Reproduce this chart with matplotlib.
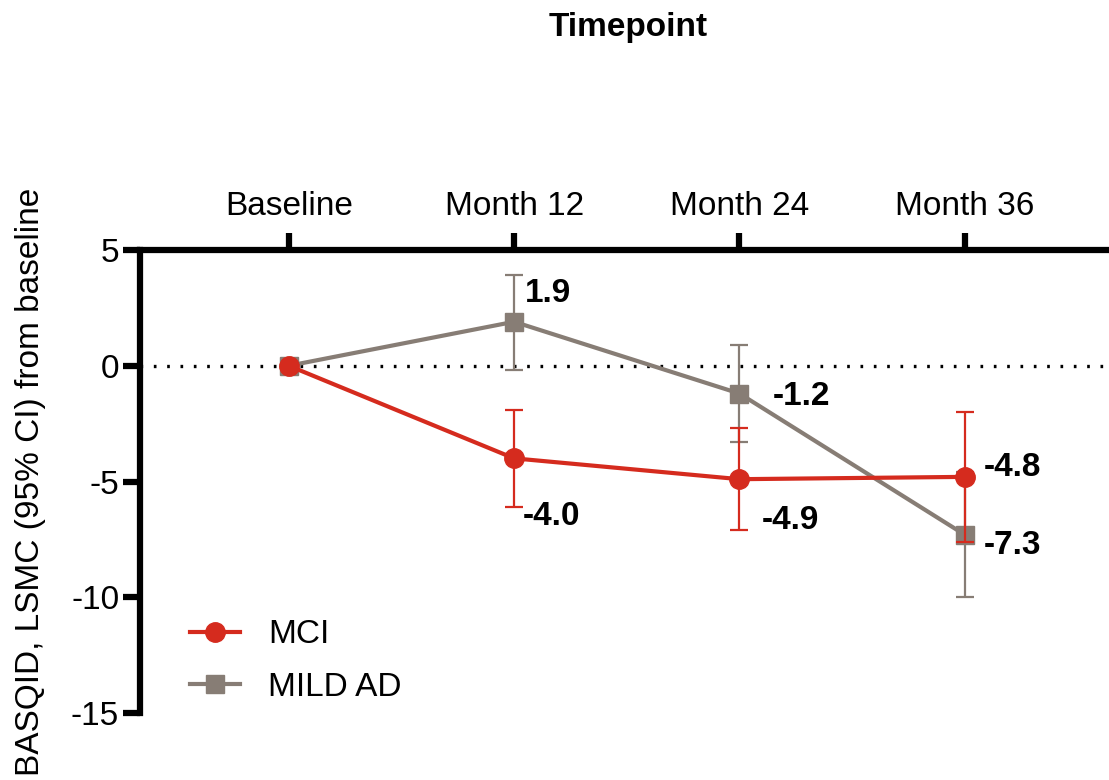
import matplotlib.pyplot as plt
import numpy as np

plt.rcParams['font.family'] = ['Liberation Sans', 'DejaVu Sans']
plt.rcParams['axes.unicode_minus'] = False

timepoints = ['Baseline', 'Month 12', 'Month 24', 'Month 36']

# MCI : moyenne, borne basse / haute IC 95%
mci_mean = [0.0, -4.0, -4.9, -4.8]
mci_low = [0.0, -6.1, -7.1, -7.6]
mci_high = [0.0, -1.9, -2.7, -2.0]

# MILD AD
ad_mean = [0.0, 1.9, -1.2, -7.3]
ad_low = [0.0, -0.2, -3.3, -10.0]
ad_high = [0.0, 3.9, 0.9, -4.6]

mci_labels = ['', '-4.0', '-4.9', '-4.8']
ad_labels = ['', '1.9', '-1.2', '-7.3']

# decalages des etiquettes (points)
mci_offsets = [(0, 0), (6, -42), (16, -30), (14, 7)]
ad_offsets = [(0, 0), (8, 20), (24, -2), (14, -8)]

red = '#D52B1E'
grey = '#877D75'

x = np.arange(len(timepoints))

fig = plt.figure(figsize=(11.09, 7.80), dpi=100)
ax = fig.add_axes([140/1109, 1-713/780, 1-140/1109, 463/780])

ax.axhline(0, color='black', lw=2.4, linestyle=(0, (0.8, 3.2)), zorder=1)

ad_err = [np.array(ad_mean)-np.array(ad_low), np.array(ad_high)-np.array(ad_mean)]
mci_err = [np.array(mci_mean)-np.array(mci_low), np.array(mci_high)-np.array(mci_mean)]

ad_plot = ax.errorbar(x, ad_mean, yerr=ad_err, color=grey, marker='s', markersize=13, lw=3,
                      elinewidth=1.6, capsize=6.5, capthick=1.6, zorder=3)
mci_plot = ax.errorbar(x, mci_mean, yerr=mci_err, color=red, marker='o', markersize=14, lw=3,
                       elinewidth=1.6, capsize=6.5, capthick=1.6, zorder=4)

for i in range(1, len(x)):
    ax.annotate(mci_labels[i], (x[i], mci_mean[i]), xytext=mci_offsets[i],
                textcoords='offset points', ha='left', va='center',
                fontsize=24, fontweight='bold')
    ax.annotate(ad_labels[i], (x[i], ad_mean[i]), xytext=ad_offsets[i],
                textcoords='offset points', ha='left', va='center',
                fontsize=24, fontweight='bold')

ax.set_xlim(-0.66, 3.64)
ax.set_ylim(-15, 5)
ax.set_yticks([5, 0, -5, -10, -15])
ax.set_xticks(x)
ax.set_xticklabels(timepoints)

ax.xaxis.tick_top()
ax.xaxis.set_label_position('top')
ax.set_xlabel('Timepoint', fontsize=24, fontweight='bold')
ax.xaxis.set_label_coords(0.5036, 1.4816)
ax.xaxis.label.set_va('center')
ax.set_ylabel('BASQID, LSMC (95% CI) from baseline', fontsize=24, labelpad=18)

ax.spines['bottom'].set_visible(False)
ax.spines['right'].set_visible(False)
ax.spines['top'].set_linewidth(4.5)
ax.spines['left'].set_linewidth(4.5)
ax.tick_params(axis='both', direction='out', length=12, width=4.5, labelsize=24)
ax.tick_params(axis='x', pad=8)
ax.tick_params(axis='y', pad=3)

leg = ax.legend([mci_plot[0], ad_plot[0]], ['MCI', 'MILD AD'], loc='center left',
                bbox_to_anchor=(190/1109, 1-661/780), bbox_transform=fig.transFigure,
                frameon=False, fontsize=24, borderpad=0, borderaxespad=0,
                handlelength=1.5, handletextpad=0.85, labelspacing=0.64)

fig.savefig('out.png', dpi=100)
